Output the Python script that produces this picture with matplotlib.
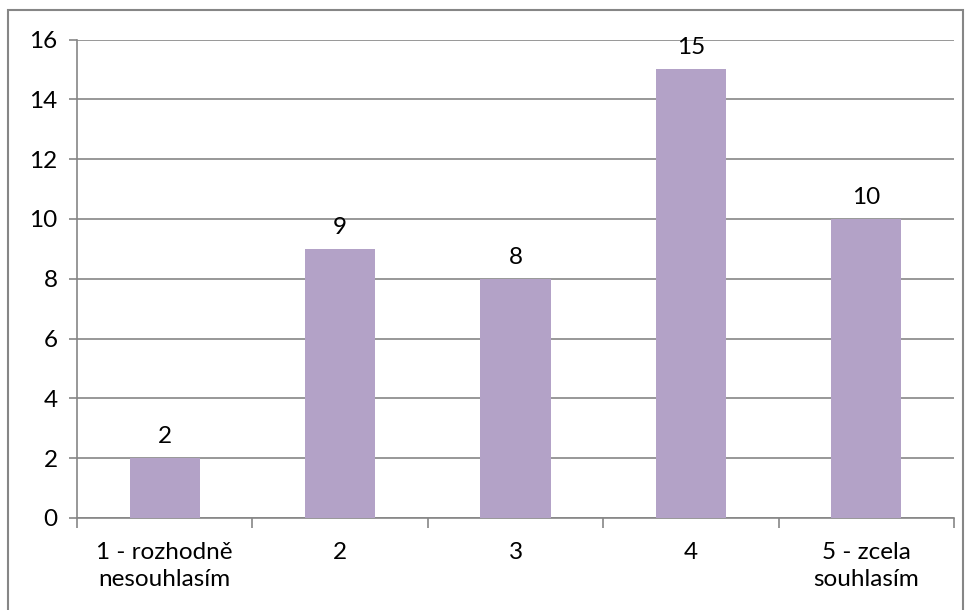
import matplotlib.pyplot as plt
from matplotlib.patches import Rectangle

categories = ["1 - rozhodně\nnesouhlasím", "2", "3", "4", "5 - zcela\nsouhlasím"]
values = [2, 9, 8, 15, 10]
yticks = [0, 2, 4, 6, 8, 10, 12, 14, 16]

plt.rcParams['font.family'] = ['Lato', 'DejaVu Sans']
grey = '#868686'
fs = 17.5

fig = plt.figure(figsize=(9.71, 6.10), dpi=100)
W, H = 971, 610
ax = fig.add_axes([77 / W, 1 - 518 / H, (954 - 77) / W, (518 - 39.5) / H])

x = list(range(len(values)))
ax.bar(x, values, width=0.4, color='#B3A2C7', zorder=3)
for xi, v in zip(x, values):
    ax.annotate(str(v), (xi, v), xytext=(0, 8), textcoords='offset points',
                ha='center', va='bottom', fontsize=fs, color='black')

ax.set_xlim(-0.5, len(values) - 0.5)
ax.set_ylim(0, 16)
ax.set_yticks(yticks)
ax.set_yticklabels([str(t) for t in yticks], fontsize=fs)
ax.yaxis.grid(True, color=grey, linewidth=1.2, zorder=0)
ax.tick_params(axis='y', length=6, width=1.2, color=grey, pad=8)

ax.set_xticks([i + 0.5 for i in range(-1, len(values))])
ax.set_xticklabels([])
ax.tick_params(axis='x', length=7, width=1.2, color=grey)
ax.set_xticks(x, minor=True)
ax.set_xticklabels(categories, minor=True, fontsize=fs, linespacing=1.35)
ax.tick_params(axis='x', which='minor', length=0, pad=17)

for side in ['top', 'right']:
    ax.spines[side].set_visible(False)
for side in ['left', 'bottom']:
    ax.spines[side].set_color(grey)
    ax.spines[side].set_linewidth(1.2)

fig.patches.append(Rectangle((8 / W, -0.01), (963 - 8) / W, 1 - 10 / H + 0.01,
                             transform=fig.transFigure, fill=False,
                             edgecolor=grey, linewidth=1.5))

fig.savefig('out.png', dpi=100)
